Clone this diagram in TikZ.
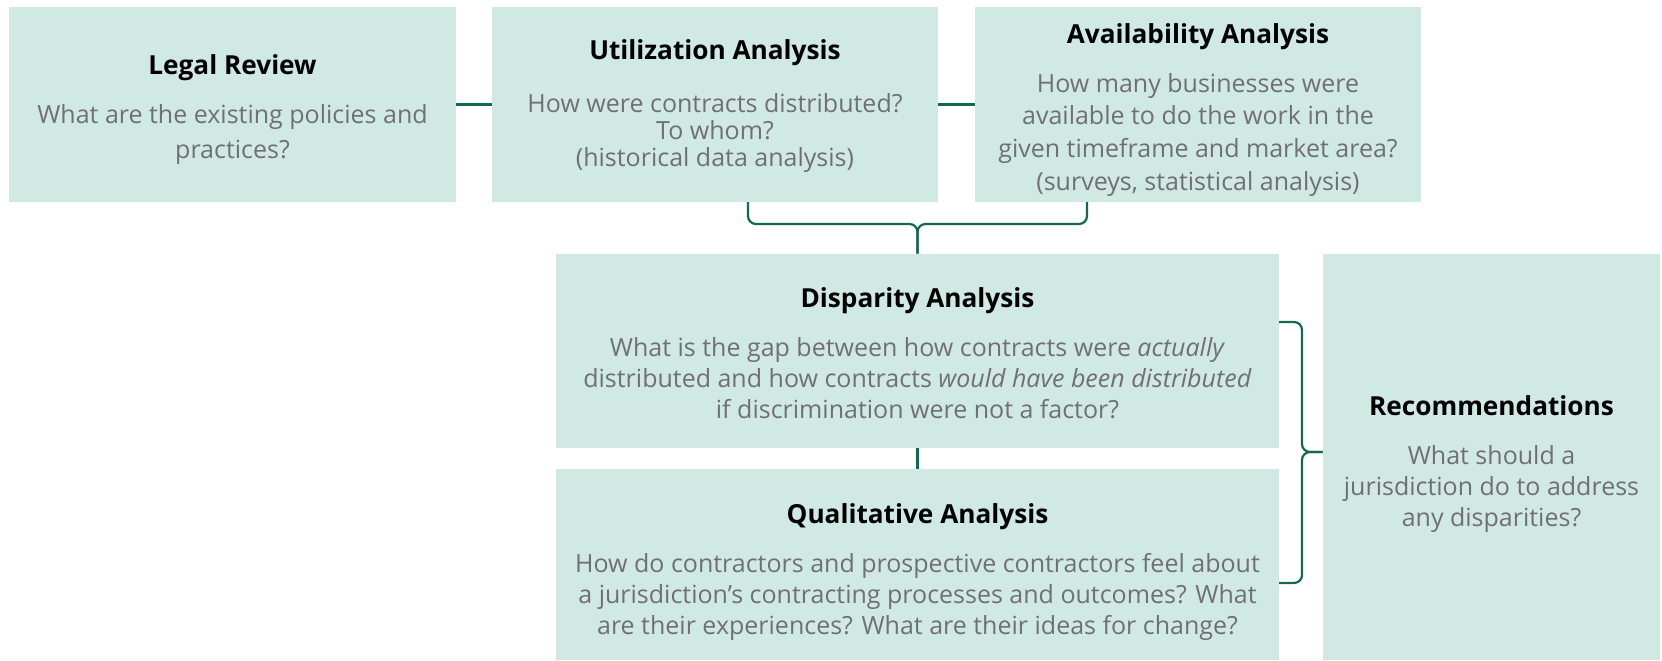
\documentclass[tikz,border=0pt]{standalone}
\usepackage{fontspec}
\setmainfont{Open Sans}
\usetikzlibrary{positioning}

\definecolor{boxfill}{RGB}{209,233,227}
\definecolor{linkgreen}{RGB}{20,104,80}
\definecolor{bodygray}{RGB}{112,112,112}

\newcommand{\stagetitle}[1]{{\fontsize{13.1}{18}\selectfont\bfseries\color{black}#1}}

\begin{document}
\begin{tikzpicture}[x=0.5pt,y=-0.5pt,
    stagebox/.style={fill=boxfill,inner sep=0pt},
    stagetext/.style={inner sep=0pt,align=center,text=bodygray,
        font=\fontsize{12.5}{15.5}\selectfont},
    link/.style={draw=linkgreen,line width=1.1pt,rounded corners=4pt}]
    \useasboundingbox (0,0) rectangle (1662,660);

    % boxes
    \node[stagebox,minimum width=223.5pt,minimum height=97.5pt] (legal) at (232.5,104.5) {};
    \node[stagebox,minimum width=223pt,minimum height=97.5pt] (util) at (715,104.5) {};
    \node[stagebox,minimum width=223pt,minimum height=97.5pt] (avail) at (1198,104.5) {};
    \node[stagebox,minimum width=361.5pt,minimum height=97pt] (dispar) at (917.5,351) {};
    \node[stagebox,minimum width=361.5pt,minimum height=95.5pt] (qual) at (917.5,564.5) {};
    \node[stagebox,minimum width=168.5pt,minimum height=203pt] (recom) at (1491.5,457) {};

    % texts
    \node[stagetext,font=\fontsize{12.5}{17.5}\selectfont] (legaltxt) at (232.5,109.5)
        {\stagetitle{Legal Review}\\[7pt]What are the existing policies and\\practices?};
    \node[stagetext,font=\fontsize{12.5}{13.5}\selectfont] (utiltxt) at (715,106)
        {\stagetitle{Utilization Analysis}\\[13pt]How were contracts distributed?\\To whom?\\(historical data analysis)};
    \node[stagetext,font=\fontsize{12.5}{16.4}\selectfont] (availtxt) at (1198,110)
        {\stagetitle{Availability Analysis}\\[8pt]How many businesses were\\available to do the work in the\\given timeframe and market area?\\(surveys, statistical analysis)};
    \node[stagetext] (dispartxt) at (917.5,353.5)
        {\stagetitle{Disparity Analysis}\\[9pt]What is the gap between how contracts were \textit{actually}\\distributed and how contracts \textit{would have been distributed}\\if discrimination were not a factor?};
    \node[stagetext] (qualtxt) at (917.5,572)
        {\stagetitle{Qualitative Analysis}\\[9pt]How do contractors and prospective contractors feel about\\a jurisdiction’s contracting processes and outcomes? What\\are their experiences? What are their ideas for change?};
    \node[stagetext] (recomtxt) at (1491.5,464)
        {\stagetitle{Recommendations}\\[9pt]What should a\\jurisdiction do to address\\any disparities?};

    % brace points
    \coordinate (utilfoot) at (748,202);
    \coordinate (availfoot) at (1087,202);
    \coordinate (topjoin) at (917.5,224);
    \coordinate (disparside) at (1279,322);
    \coordinate (qualside) at (1279,583);
    \coordinate (sidejoin) at (1302,452);

    \draw[link] (legal.east) -- (util.west);
    \draw[link] (util.east) -- (avail.west);
    \draw[link] (utilfoot) -- (utilfoot |- topjoin) -- (topjoin) -- (dispar.north);
    \draw[link] (availfoot) -- (availfoot |- topjoin) -- (topjoin) -- (dispar.north);
    \draw[link] (dispar.south) -- (qual.north);
    \draw[link] (disparside) -- (disparside -| sidejoin) -- (sidejoin) -- (recom.west |- sidejoin);
    \draw[link] (qualside) -- (qualside -| sidejoin) -- (sidejoin) -- (recom.west |- sidejoin);
\end{tikzpicture}
\end{document}
